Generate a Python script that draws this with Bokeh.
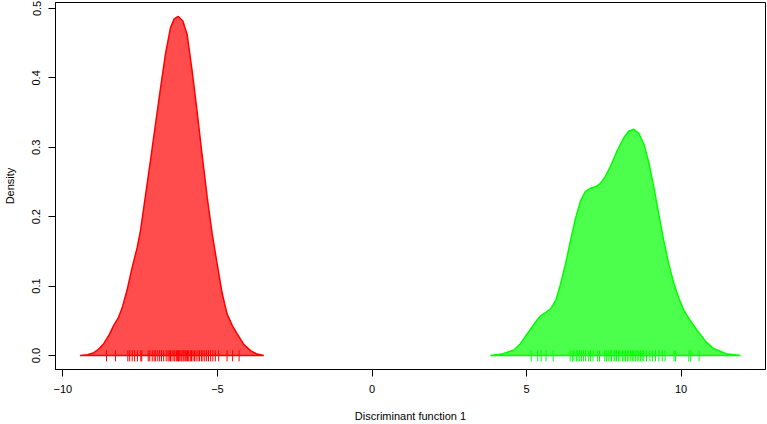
from bokeh.plotting import figure
from bokeh.models import FixedTicker, PrintfTickFormatter, Range1d
from bokeh.embed import file_html
from bokeh.resources import INLINE

# Density curve of group 1 (red)
red_x = [-9.45, -9.2, -9.0, -8.85, -8.68, -8.5, -8.36, -8.2, -8.08, -7.92, -7.76, -7.6, -7.49,
         -7.33, -7.17, -7.0, -6.84, -6.68, -6.52, -6.4, -6.27, -6.12, -5.98, -5.82, -5.66,
         -5.5, -5.33, -5.17, -5.01, -4.85, -4.69, -4.52, -4.36, -4.15, -3.93, -3.72, -3.5]
red_d = [0.0, 0.001, 0.004, 0.009, 0.017, 0.03, 0.043, 0.055, 0.069, 0.095, 0.127, 0.155, 0.18,
         0.23, 0.28, 0.335, 0.386, 0.435, 0.472, 0.485, 0.4885, 0.482, 0.462, 0.41, 0.352,
         0.29, 0.227, 0.175, 0.132, 0.09, 0.06, 0.043, 0.031, 0.016, 0.007, 0.002, 0.0]

# Density curve of group 2 (green)
green_x = [3.83, 4.2, 4.59, 4.8, 5.02, 5.25, 5.45, 5.62, 5.78, 5.95, 6.10, 6.26, 6.42, 6.58,
           6.75, 6.9, 7.07, 7.23, 7.39, 7.55, 7.72, 7.93, 8.15, 8.3, 8.47, 8.63, 8.80, 8.96,
           9.12, 9.28, 9.44, 9.6, 9.77, 9.93, 10.09, 10.3, 10.52, 10.8, 11.06, 11.5, 11.92]
green_d = [0.0, 0.002, 0.008, 0.017, 0.031, 0.046, 0.057, 0.062, 0.067, 0.08, 0.103, 0.132,
           0.165, 0.197, 0.223, 0.236, 0.241, 0.243, 0.248, 0.258, 0.273, 0.295, 0.314, 0.323,
           0.326, 0.32, 0.304, 0.277, 0.242, 0.203, 0.165, 0.132, 0.103, 0.082, 0.065, 0.05,
           0.036, 0.02, 0.0096, 0.002, 0.0]

# Rug observations
red_obs = [-8.59, -8.30, -7.90, -7.84, -7.76, -7.68, -7.59, -7.48, -7.45, -7.24, -7.19, -7.11,
           -7.05, -7.00, -6.93, -6.87, -6.81, -6.74, -6.66, -6.60, -6.56, -6.52, -6.47, -6.41,
           -6.38, -6.33, -6.29, -6.26, -6.22, -6.18, -6.15, -6.11, -6.08, -6.04, -6.01, -5.97,
           -5.93, -5.88, -5.84, -5.79, -5.74, -5.69, -5.63, -5.58, -5.52, -5.47, -5.41, -5.35,
           -5.29, -5.22, -5.15, -5.07, -4.96, -4.69, -4.51, -4.30]
green_obs = [5.15, 5.36, 5.47, 5.63, 5.86, 6.41, 6.48, 6.53, 6.61, 6.66, 6.72, 6.78, 6.84, 6.91,
             7.01, 7.07, 7.15, 7.30, 7.36, 7.53, 7.59, 7.64, 7.70, 7.75, 7.83, 7.86, 7.91, 7.97,
             8.02, 8.10, 8.15, 8.20, 8.26, 8.31, 8.37, 8.42, 8.47, 8.53, 8.58, 8.63, 8.69, 8.74,
             8.79, 8.88, 8.99, 9.07, 9.17, 9.28, 9.39, 9.48, 9.77, 9.82, 10.25, 10.31, 10.58]

x_ticks = [-10, -5, 0, 5, 10]
y_ticks = [0.0, 0.1, 0.2, 0.3, 0.4, 0.5]

FONT = "Liberation Sans"

p = figure(width=767, height=424, output_backend="svg", toolbar_location=None,
           x_range=Range1d(-10.24, 12.73), y_range=Range1d(-0.0202, 0.5086),
           min_border_left=55, min_border_right=2, min_border_top=2, min_border_bottom=55,
           x_axis_label="Discriminant function 1", y_axis_label="Density")

p.patch(red_x, red_d, fill_color="red", fill_alpha=0.7, line_color="red", line_width=1.5)
p.patch(green_x, green_d, fill_color="#00ff00", fill_alpha=0.7, line_color="#00ff00", line_width=1.5)

p.segment(x0=red_obs, y0=[-0.0085] * len(red_obs), x1=red_obs, y1=[0.0075] * len(red_obs),
          line_color="red", line_width=1)
p.segment(x0=green_obs, y0=[-0.0085] * len(green_obs), x1=green_obs, y1=[0.0075] * len(green_obs),
          line_color="#00ff00", line_width=1)

p.xgrid.visible = False
p.ygrid.visible = False
p.outline_line_color = "black"
p.outline_line_alpha = 1.0
p.outline_line_width = 1

p.xaxis.ticker = FixedTicker(ticks=x_ticks)
p.yaxis.ticker = FixedTicker(ticks=y_ticks)
p.yaxis.formatter = PrintfTickFormatter(format="%.1f")
p.yaxis.major_label_orientation = "vertical"

for ax in (p.xaxis, p.yaxis):
    ax.axis_line_color = "black"
    ax.major_tick_line_color = "black"
    ax.major_tick_out = 7
    ax.major_tick_in = 0
    ax.minor_tick_line_color = None
    ax.major_label_text_font = FONT
    ax.major_label_text_font_size = "11px"
    ax.major_label_text_color = "black"
    ax.axis_label_text_font = FONT
    ax.axis_label_text_font_size = "11px"
    ax.axis_label_text_font_style = "normal"
    ax.axis_label_text_color = "black"

p.xaxis.major_label_standoff = 8
p.xaxis.axis_label_standoff = 14
p.yaxis.major_label_standoff = 8
p.yaxis.axis_label_standoff = 14

open("out.html", "w").write(file_html(p, INLINE))
